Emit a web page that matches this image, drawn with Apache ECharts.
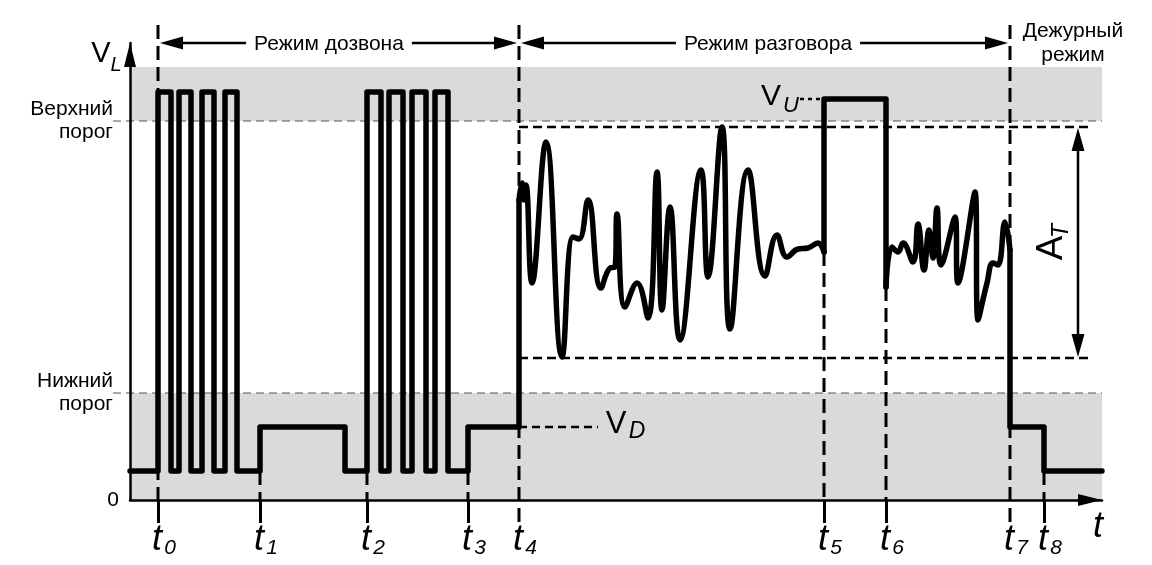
<!DOCTYPE html>
<html><head><meta charset="utf-8">
<script src="https://cdn.jsdelivr.net/npm/echarts@6/dist/echarts.min.js"></script>
<style>html,body{margin:0;padding:0;background:#fff}#c{width:1152px;height:565px}</style>
</head><body><div id="c"></div>
<script>
// ---------------- data (time units along x, level units along y) ----------------
const tickNames = ['0','1','2','3','4','5','6','7','8'];
const tickT     = [28, 130, 237, 338, 389, 694, 756, 880, 914];
const tickMarkT = [28, 130, 237, 338, 694, 756, 914];
const guideTop    = [475, 29, 29, 29, 475, 248, 213, 475, 29];
const guideBottom = [0,   0,  0,  0,  -25, 0,   0,   -25, 0];

const thresholdNames  = ['Верхний\nпорог', 'Нижний\nпорог'];
const thresholdValues = [379, 107];
const bandUpper = [379, 433];
const bandLower = [0, 107];
const aTop = 373, aBottom = 142;
const vD = 73, vU = 401;

const dialSteps = [[0,29],[28,29],[28,408],[41,408],[41,29],[49,29],[49,408],[61,408],[61,29],[72,29],[72,408],[84,408],[84,29],[95,29],[95,408],[107,408],[107,29],[130,29],[130,73],[215,73],[215,29],[237,29],[237,408],[251,408],[251,29],[259,29],[259,408],[273,408],[273,29],[282,29],[282,408],[296,408],[296,29],[305,29],[305,408],[318,408],[318,29],[338,29],[338,73],[389,73],[389,300]];
const talk1 = [[389,300],[392,317],[394,300],[396,315],[402,217],[416,358],[432,143],[443,263],[449,261],[458,300],[471,212],[480,232],[485,233],[487,286],[495,193],[507,217],[518,182],[527,328],[532,190],[540,293],[550,160],[571,330],[578,223],[592,373],[600,171],[618,330],[635,224],[647,265],[657,243],[668,251],[678,252],[688,257],[694,248]];
const holdPulse = [[694,248],[694,401],[756,401],[756,213]];
const talk2 = [[756,213],[762,253],[768,248],[773,257],[783,238],[788,276],[794,230],[799,270],[803,242],[807,292],[811,235],[825,283],[828,217],[845,308],[848,180],[857,217],[863,237],[868,235],[875,278],[880,250]];
const idleSteps = [[880,250],[880,73],[914,73],[914,29],[972,29]];

const modeNames  = ['Режим дозвона', 'Режим разговора'];
const modeFrom   = [28, 389];
const modeTo     = [389, 880];
const modeLabelX = [199, 638];
const modeY      = 457;
const idleName   = 'Дежурный\nрежим';
const idleAt     = [943, 457];
const axisTName  = 't';
const axisTAt    = [968, -27];

const noteMain = ['V', 'V', 'V', 'A'];
const noteSub  = ['L', 'U', 'D', 'T'];
const noteX    = [-29, 641, 486, 922];
const noteY    = [446, 403, 76, 252];

// ---------------- chart ----------------
const FONT = "'Liberation Sans', Arial, sans-serif";
const chart = echarts.init(document.getElementById('c'));

function stepLine(data, smooth) {
  return { type: 'line', data: data, smooth: smooth, symbol: 'none', clip: false, z: 5, silent: true,
    lineStyle: { color: '#000', width: 5.5, cap: 'round', join: 'round' } };
}
function segs(rows, style, z) {
  return { type: 'custom', z: z, silent: true, clip: false, data: rows,
    renderItem: function (params, api) {
      const a = api.coord([api.value(0), api.value(1)]);
      const b = api.coord([api.value(2), api.value(3)]);
      return { type: 'line', shape: { x1: a[0], y1: a[1], x2: b[0], y2: b[1] }, style: Object.assign({}, style) };
    } };
}

const guideRows = tickT.map((t, i) => [t, guideTop[i], t, guideBottom[i]]);
const thresholdRows = thresholdValues.map(v => [-17, v, 972, v]);
const aRows = [[389, aTop, 962, aTop], [389, aBottom, 962, aBottom]];

const option = {
  animation: false,
  backgroundColor: '#fff',
  grid: { left: 130, top: 43, width: 972, height: 457, containLabel: false, outerBoundsMode: 'none' },
  xAxis: {
    type: 'value', min: 0, max: 972, z: 10,
    axisLine: { show: true, onZero: false, symbol: ['none', 'triangle'], symbolSize: [12, 24], symbolOffset: [0, -12],
      lineStyle: { color: '#000', width: 2.5 } },
    axisTick: { show: true, customValues: tickMarkT, length: 23, lineStyle: { color: '#000', width: 3 } },
    axisLabel: { show: false }, splitLine: { show: false }
  },
  yAxis: {
    type: 'value', min: 0, max: 457, z: 10,
    axisLine: { show: true, onZero: false, symbol: ['none', 'triangle'], symbolSize: [12, 24], symbolOffset: [0, -12],
      lineStyle: { color: '#000', width: 2.5 } },
    axisTick: { show: false },
    axisLabel: {
      show: true, customValues: [0].concat(thresholdValues), margin: 11,
      formatter: function (v) {
        const i = thresholdValues.indexOf(v);
        if (i < 0) return '{z|0}';
        return thresholdNames[i].split('\n').map(s => '{th|' + s + '}').join('\n');
      },
      rich: {
        z: { fontSize: 21, fontFamily: FONT, color: '#000' },
        th: { fontSize: 21, fontFamily: FONT, color: '#000', lineHeight: 23, padding: [0, 6, 0, 0] }
      }
    },
    splitLine: { show: false }
  },
  series: [
    Object.assign(stepLine(dialSteps, false), {
      markArea: { silent: true, itemStyle: { color: '#dadada' },
        data: [[{ yAxis: bandUpper[0] }, { yAxis: bandUpper[1] }], [{ yAxis: bandLower[0] }, { yAxis: bandLower[1] }]] }
    }),
    stepLine(talk1, 0.45),
    stepLine(holdPulse, false),
    stepLine(talk2, 0.45),
    stepLine(idleSteps, false),
    segs(thresholdRows, { stroke: '#555', lineWidth: 1.2, lineDash: [8, 5] }, 2),
    segs(guideRows, { stroke: '#000', lineWidth: 3, lineDash: [14, 7] }, 3),
    segs(aRows, { stroke: '#000', lineWidth: 2.5, lineDash: [9, 5] }, 3),
    segs([[389, vD, 468, vD]], { stroke: '#000', lineWidth: 2.5, lineDash: [8, 5] }, 3),
    segs([[670, vU, 693, vU]], { stroke: '#000', lineWidth: 2.5, lineDash: [4, 4] }, 3),
    // mode arrows
    { type: 'custom', z: 6, silent: true, clip: false,
      data: modeFrom.map((f, i) => [f, modeTo[i], modeY, modeLabelX[i]]),
      renderItem: function (params, api) {
        const a = api.coord([api.value(0), api.value(2)]);
        const b = api.coord([api.value(1), api.value(2)]);
        const c = api.coord([api.value(3), api.value(2)]);
        const y = a[1], ax = a[0] + 2, bx = b[0] - 2, L = 23, W = 6.5;
        return { type: 'group', children: [
          { type: 'line', shape: { x1: ax + 10, y1: y, x2: bx - 10, y2: y }, style: { stroke: '#000', lineWidth: 2.5 } },
          { type: 'polygon', shape: { points: [[ax, y], [ax + L, y - W], [ax + L, y + W]] }, style: { fill: '#000' } },
          { type: 'polygon', shape: { points: [[bx, y], [bx - L, y - W], [bx - L, y + W]] }, style: { fill: '#000' } },
          { type: 'text', x: c[0], y: c[1] + 1, style: { text: modeNames[params.dataIndex], fontSize: 21, fontFamily: FONT,
              fill: '#000', align: 'center', verticalAlign: 'middle', backgroundColor: '#fff', padding: [3, 8] } }
        ] };
      } },
    // A_T double arrow
    { type: 'custom', z: 6, silent: true, clip: false, data: [[948, aTop, aBottom]],
      renderItem: function (params, api) {
        const a = api.coord([api.value(0), api.value(1)]);
        const b = api.coord([api.value(0), api.value(2)]);
        const x = a[0], ya = a[1] + 1, yb = b[1] - 1, L = 23, W = 6.5;
        return { type: 'group', children: [
          { type: 'line', shape: { x1: x, y1: ya + 10, x2: x, y2: yb - 10 }, style: { stroke: '#000', lineWidth: 2.5 } },
          { type: 'polygon', shape: { points: [[x, ya], [x - W, ya + L], [x + W, ya + L]] }, style: { fill: '#000' } },
          { type: 'polygon', shape: { points: [[x, yb], [x - W, yb - L], [x + W, yb - L]] }, style: { fill: '#000' } }
        ] };
      } },
    // symbol notes V_L, V_U, V_D, A_T
    { type: 'custom', z: 7, silent: true, clip: false,
      data: noteX.map((x, i) => [x, noteY[i]]),
      renderItem: function (params, api) {
        const i = params.dataIndex;
        const p = api.coord([api.value(0), api.value(1)]);
        const sizes = [29, 30, 31, 37];
        const subSizes = [20, 22, 23, 23];
        const offs = [[15, 11], [20, 9], [21, 8], [17, 10]];
        const main = { type: 'text', x: 0, y: 0, style: { text: noteMain[i], fontSize: sizes[i], fontFamily: FONT, fill: '#000', align: 'center', verticalAlign: 'middle' } };
        const sub = { type: 'text', x: offs[i][0], y: offs[i][1], style: { text: noteSub[i], fontSize: subSizes[i], fontStyle: 'italic', fontFamily: FONT, fill: '#000', align: 'center', verticalAlign: 'middle' } };
        return { type: 'group', x: p[0], y: p[1], rotation: i === 3 ? Math.PI / 2 : 0, children: [main, sub] };
      } },
    // t-labels under the time axis
    { type: 'custom', z: 7, silent: true, clip: false,
      data: tickT.map(t => [t, 0]),
      renderItem: function (params, api) {
        const p = api.coord([api.value(0), api.value(1)]);
        return { type: 'group', x: p[0], y: p[1], children: [
          { type: 'text', x: -1, y: 40, style: { text: 't', fontSize: 36, fontStyle: 'italic', fontFamily: FONT, fill: '#000', align: 'center', verticalAlign: 'middle' } },
          { type: 'text', x: 12, y: 48, style: { text: tickNames[params.dataIndex], fontSize: 21, fontStyle: 'italic', fontFamily: FONT, fill: '#000', align: 'center', verticalAlign: 'middle' } }
        ] };
      } },
    // idle mode label and axis name
    { type: 'custom', z: 7, silent: true, clip: false,
      data: [idleAt, axisTAt],
      renderItem: function (params, api) {
        const p = api.coord([api.value(0), api.value(1)]);
        if (params.dataIndex === 0) {
          return { type: 'text', x: p[0], y: p[1], style: { text: idleName, fontSize: 21, lineHeight: 24, fontFamily: FONT, fill: '#000', align: 'center', verticalAlign: 'middle' } };
        }
        return { type: 'text', x: p[0], y: p[1], style: { text: axisTName, fontSize: 36, fontStyle: 'italic', fontFamily: FONT, fill: '#000', align: 'center', verticalAlign: 'middle' } };
      } }
  ]
};
chart.setOption(option);
</script>
</body></html>
